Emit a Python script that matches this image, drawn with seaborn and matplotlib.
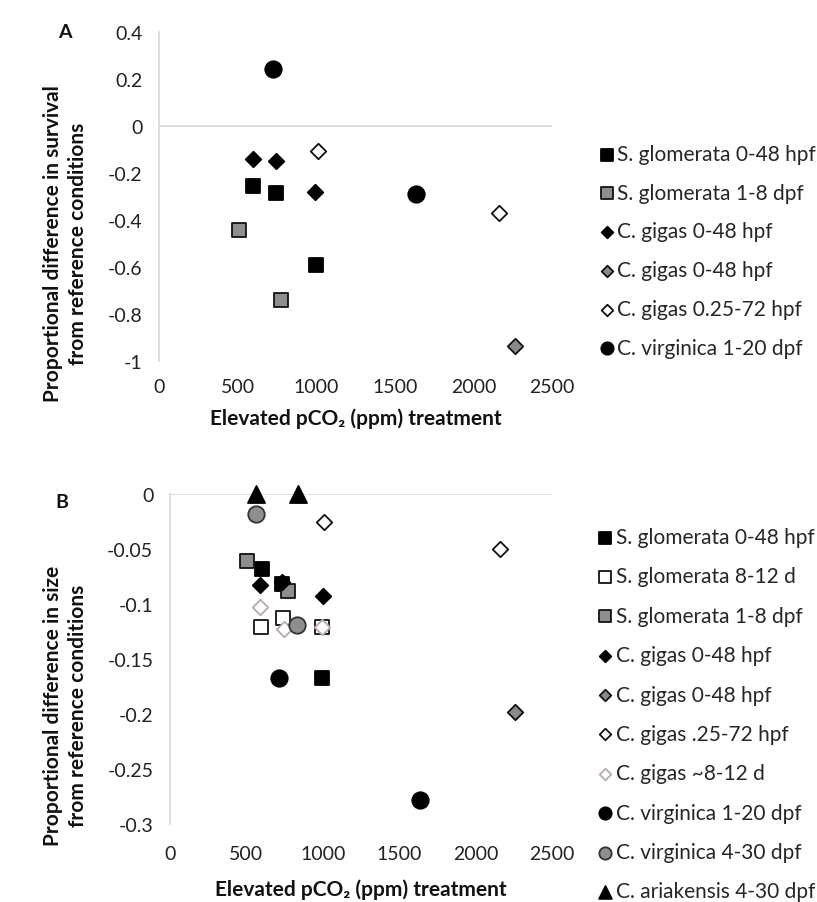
import numpy as np
import pandas as pd
import seaborn as sns
from matplotlib import pyplot as plt

# ---- Panel A: proportional difference in survival ----
a_sg048_x = [600, 745, 1000]
a_sg048_y = [-0.256, -0.286, -0.592]
a_sg18_x = [509, 775]
a_sg18_y = [-0.444, -0.739]
a_cg048_x = [600, 746, 995]
a_cg048_y = [-0.141, -0.148, -0.279]
a_cg048g_x = [2263]
a_cg048g_y = [-0.937]
a_cg025_x = [1014, 2161]
a_cg025_y = [-0.106, -0.370]
a_cv120_x = [723, 1635]
a_cv120_y = [0.244, -0.289]

# ---- Panel B: proportional difference in size ----
b_sg048_x = [600, 735, 992]
b_sg048_y = [-0.068, -0.082, -0.167]
b_sg812_x = [596, 738, 995]
b_sg812_y = [-0.121, -0.113, -0.121]
b_sg18_x = [507, 770]
b_sg18_y = [-0.061, -0.088]
b_cg048_x = [590, 735, 1000]
b_cg048_y = [-0.083, -0.080, -0.093]
b_cg048g_x = [2257]
b_cg048g_y = [-0.198]
b_cg025_x = [1010, 2160]
b_cg025_y = [-0.025, -0.050]
b_cg812_x = [590, 747, 995]
b_cg812_y = [-0.103, -0.123, -0.121]
b_cv120_x = [712, 1638]
b_cv120_y = [-0.167, -0.278]
b_cv430_x = [560, 830]
b_cv430_y = [-0.018, -0.119]
b_ca430_x = [560, 835]
b_ca430_y = [0.0, 0.0]

x_ticks = [0, 500, 1000, 1500, 2000, 2500]
a_y_ticks = [0.4, 0.2, 0, -0.2, -0.4, -0.6, -0.8, -1]
a_y_labels = ['0.4', '0.2', '0', '-0.2', '-0.4', '-0.6', '-0.8', '-1']
b_y_ticks = [0, -0.05, -0.1, -0.15, -0.2, -0.25, -0.3]
b_y_labels = ['0', '-0.05', '-0.1', '-0.15', '-0.2', '-0.25', '-0.3']

series_a = [
    ('S. glomerata 0-48 hpf', a_sg048_x, a_sg048_y, 'sq_black'),
    ('S. glomerata 1-8 dpf', a_sg18_x, a_sg18_y, 'sq_gray'),
    ('C. gigas 0-48 hpf', a_cg048_x, a_cg048_y, 'dm_black'),
    ('C. gigas 0-48 hpf', a_cg048g_x, a_cg048g_y, 'dm_gray'),
    ('C. gigas 0.25-72 hpf', a_cg025_x, a_cg025_y, 'dm_open'),
    ('C. virginica 1-20 dpf', a_cv120_x, a_cv120_y, 'ci_black'),
]
series_b = [
    ('S. glomerata 0-48 hpf', b_sg048_x, b_sg048_y, 'sq_black'),
    ('S. glomerata 8-12 d', b_sg812_x, b_sg812_y, 'sq_open'),
    ('S. glomerata 1-8 dpf', b_sg18_x, b_sg18_y, 'sq_gray'),
    ('C. gigas 0-48 hpf', b_cg048_x, b_cg048_y, 'dm_black'),
    ('C. gigas 0-48 hpf', b_cg048g_x, b_cg048g_y, 'dm_gray'),
    ('C. gigas .25-72 hpf', b_cg025_x, b_cg025_y, 'dm_open'),
    ('C. gigas ~8-12 d', b_cg812_x, b_cg812_y, 'dm_light'),
    ('C. virginica 1-20 dpf', b_cv120_x, b_cv120_y, 'ci_black'),
    ('C. virginica 4-30 dpf', b_cv430_x, b_cv430_y, 'ci_gray'),
    ('C. ariakensis 4-30 dpf', b_ca430_x, b_ca430_y, 'tri_black'),
]

styles = {
    'sq_black': dict(marker='s', color='black', edgecolor='black', s=115),
    'sq_gray': dict(marker='s', color='#8e8e8e', edgecolor='#111111', s=115),
    'sq_open': dict(marker='s', color='white', edgecolor='#111111', s=115),
    'dm_black': dict(marker='D', color='black', edgecolor='black', s=62),
    'dm_gray': dict(marker='D', color='#8a8a8a', edgecolor='#111111', s=62),
    'dm_open': dict(marker='D', color='white', edgecolor='#111111', s=62),
    'dm_light': dict(marker='D', color='white', edgecolor='#b9aaaa', s=62),
    'ci_black': dict(marker='o', color='black', edgecolor='black', s=140),
    'ci_gray': dict(marker='o', color='#8e8e8e', edgecolor='#333333', s=140),
    'tri_black': dict(marker='^', color='black', edgecolor='black', s=150),
}

sns.set_style('white')
plt.rcParams['font.family'] = ['Lato', 'DejaVu Sans']

W, H = 817, 903
fig = plt.figure(figsize=(W / 100, H / 100), dpi=100)


def draw_panel(rect, series, y_ticks, y_labels, ylim, ylabel, label_xy, letter, letter_xy,
               leg_xy, leg_space, xpad, xlabelpad):
    ax = fig.add_axes(rect)
    for name, xs, ys, key in series:
        df = pd.DataFrame({'x': xs, 'y': ys})
        sns.scatterplot(data=df, x='x', y='y', ax=ax, label=name, linewidth=1.3,
                        clip_on=False, zorder=3, legend=False, **styles[key])
    ax.set_xlim(0, 2500)
    ax.set_ylim(*ylim)
    ax.axhline(0, color='#d9d9d9', lw=1.2, zorder=1)
    ax.set_xticks(x_ticks)
    ax.set_xticklabels([str(t) for t in x_ticks])
    ax.set_yticks(y_ticks)
    ax.set_yticklabels(y_labels)
    ax.tick_params(length=0, labelsize=14, colors='#222222', pad=12)
    ax.tick_params(axis='x', pad=xpad)
    for side in ['top', 'right', 'bottom']:
        ax.spines[side].set_visible(False)
    ax.spines['left'].set_color('#d9d9d9')
    ax.spines['left'].set_linewidth(1.2)
    ax.set_xlabel('Elevated pCO\u2082 (ppm) treatment', fontsize=15,
                  fontweight='bold', color='#111111', labelpad=xlabelpad)
    ax.set_ylabel(ylabel, fontsize=15, fontweight='bold', color='#111111',
                  linespacing=1.3)
    ax.yaxis.set_label_coords(*label_xy)
    fig.text(letter_xy[0], letter_xy[1], letter, fontsize=14, fontweight='bold',
             ha='center', va='center', color='#111111')
    ax.legend(loc='upper left', bbox_to_anchor=leg_xy, bbox_transform=fig.transFigure,
              frameon=False, fontsize=15, handlelength=0.6, handletextpad=0.2,
              borderpad=0, borderaxespad=0, labelspacing=leg_space, markerscale=0.75)
    return ax


draw_panel([159 / W, 1 - 362 / H, 393 / W, 329 / H], series_a, a_y_ticks, a_y_labels,
           (-1, 0.4), 'Proportional difference in survival\nfrom reference conditions',
           (-0.18, 0.36), 'A', (65 / W, 1 - 33 / H), (0.735, 1 - 145 / H), 0.9, 12, 9)

draw_panel([170 / W, 1 - 825 / H, 382 / W, 330 / H], series_b, b_y_ticks, b_y_labels,
           (-0.3, 0), 'Proportional difference in size\nfrom reference conditions',
           (-0.215, 0.36), 'B', (62 / W, 1 - 503 / H), (0.733, 1 - 528 / H), 0.93, 15, 12)

fig.savefig('out.png', dpi=100)
